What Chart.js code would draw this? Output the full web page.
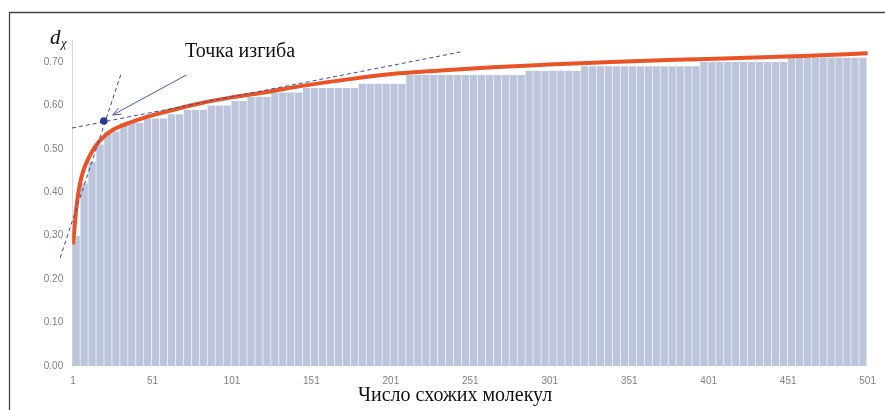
<!DOCTYPE html>
<html>
<head>
<meta charset="utf-8">
<script src="https://cdn.jsdelivr.net/npm/chart.js@4.4.0/dist/chart.umd.min.js"></script>
<style>
  body { margin: 0; background: #fff; }
  #wrap { position: relative; width: 885px; height: 410px; }
</style>
</head>
<body>
<div id="wrap"><canvas id="chart" width="885" height="410"></canvas></div>
<script>
// bar centres (number of similar molecules), each bar covers 5 molecules
var barX = [3, 8, 13, 18, 23, 28, 33, 38, 43, 48,
  53, 58, 63, 68, 73, 78, 83, 88, 93, 98,
  103, 108, 113, 118, 123, 128, 133, 138, 143, 148,
  153, 158, 163, 168, 173, 178, 183, 188, 193, 198,
  203, 208, 213, 218, 223, 228, 233, 238, 243, 248,
  253, 258, 263, 268, 273, 278, 283, 288, 293, 298,
  303, 308, 313, 318, 323, 328, 333, 338, 343, 348,
  353, 358, 363, 368, 373, 378, 383, 388, 393, 398,
  403, 408, 413, 418, 423, 428, 433, 438, 443, 448,
  453, 458, 463, 468, 473, 478, 483, 488, 493, 498];

// d_x
var barValues = [0.30, 0.42, 0.47, 0.51, 0.54, 0.54, 0.56, 0.56, 0.56, 0.57,
  0.57, 0.57, 0.58, 0.58, 0.59, 0.59, 0.59, 0.60, 0.60, 0.60,
  0.61, 0.61, 0.62, 0.62, 0.62, 0.63, 0.63, 0.63, 0.63, 0.64,
  0.64, 0.64, 0.64, 0.64, 0.64, 0.64, 0.65, 0.65, 0.65, 0.65,
  0.65, 0.65, 0.67, 0.67, 0.67, 0.67, 0.67, 0.67, 0.67, 0.67,
  0.67, 0.67, 0.67, 0.67, 0.67, 0.67, 0.67, 0.68, 0.68, 0.68,
  0.68, 0.68, 0.68, 0.68, 0.69, 0.69, 0.69, 0.69, 0.69, 0.69,
  0.69, 0.69, 0.69, 0.69, 0.69, 0.69, 0.69, 0.69, 0.69, 0.70,
  0.70, 0.70, 0.70, 0.70, 0.70, 0.70, 0.70, 0.70, 0.70, 0.70,
  0.71, 0.71, 0.71, 0.71, 0.71, 0.71, 0.71, 0.71, 0.71, 0.71];

// smooth trend curve (red)
var curveX = [1, 2, 3, 4, 6, 8, 11, 14, 17, 22, 27, 35, 47, 60, 80, 100, 120, 145, 170, 200, 230, 265, 300, 340, 380, 420, 460, 501];
var curveValues = [0.28, 0.32, 0.36, 0.39, 0.43, 0.455, 0.48, 0.50, 0.515, 0.533, 0.546, 0.558, 0.573, 0.586, 0.604, 0.618, 0.629, 0.645, 0.658, 0.672, 0.680, 0.688, 0.694, 0.700, 0.705, 0.709, 0.714, 0.72];

var xTicks = [1, 51, 101, 151, 201, 251, 301, 351, 401, 451, 501];
var yTicks = [0, 0.1, 0.2, 0.3, 0.4, 0.5, 0.6, 0.7];

// annotation geometry in data units
var marks = {
  dot: {x: 20.4, y: 0.564},
  steep: [{x: -7.1, y: 0.249}, {x: 31.6, y: 0.677}],
  flat: [{x: 0.4, y: 0.548}, {x: 244.7, y: 0.723}],
  arrow: [{x: 72.3, y: 0.670}, {x: 26, y: 0.578}]
};

var barData = [];
for (var i = 0; i < barX.length; i++) {
  barData.push({x: barX[i], y: barValues[i]});
}
var curveData = [];
for (var j = 0; j < curveX.length; j++) {
  curveData.push({x: curveX[j], y: curveValues[j]});
}

var extras = {
  id: 'extras',
  beforeDraw: function(chart) {
    var ctx = chart.ctx;
    ctx.save();
    ctx.strokeStyle = '#444';
    ctx.lineWidth = 1.3;
    ctx.beginPath();
    ctx.moveTo(9.5, 410);
    ctx.lineTo(9.5, 12.5);
    ctx.lineTo(885, 12.5);
    ctx.stroke();
    ctx.restore();
  },
  afterDatasetsDraw: function(chart) {
    var ctx = chart.ctx;
    var xs = chart.scales.x, ys = chart.scales.y;
    function px(p) { return [xs.getPixelForValue(p.x), ys.getPixelForValue(p.y)]; }
    ctx.save();
    // dashed tangents
    ctx.strokeStyle = '#3d4b9c';
    ctx.lineWidth = 1;
    ctx.setLineDash([4, 3]);
    [marks.steep, marks.flat].forEach(function(seg) {
      var a = px(seg[0]), b = px(seg[1]);
      ctx.beginPath();
      ctx.moveTo(a[0], a[1]);
      ctx.lineTo(b[0], b[1]);
      ctx.stroke();
    });
    ctx.setLineDash([]);
    // arrow
    var s = px(marks.arrow[0]), e = px(marks.arrow[1]);
    ctx.strokeStyle = '#4a58a8';
    ctx.beginPath();
    ctx.moveTo(s[0], s[1]);
    ctx.lineTo(e[0], e[1]);
    ctx.stroke();
    var ang = Math.atan2(e[1] - s[1], e[0] - s[0]);
    ctx.beginPath();
    ctx.moveTo(e[0] - 9 * Math.cos(ang - 0.4), e[1] - 9 * Math.sin(ang - 0.4));
    ctx.lineTo(e[0], e[1]);
    ctx.lineTo(e[0] - 9 * Math.cos(ang + 0.4), e[1] - 9 * Math.sin(ang + 0.4));
    ctx.stroke();
    // inflection point
    var d = px(marks.dot);
    ctx.fillStyle = '#2b3a8c';
    ctx.beginPath();
    ctx.arc(d[0], d[1], 3.8, 0, Math.PI * 2);
    ctx.fill();
    // texts
    ctx.fillStyle = '#111';
    ctx.textBaseline = 'alphabetic';
    ctx.font = '20px "Liberation Serif"';
    ctx.fillText('Точка изгиба', 185, 57);
    ctx.fillText('Число схожих молекул', 358, 401);
    ctx.font = 'italic 21px "Liberation Serif"';
    ctx.fillText('d', 50, 44);
    ctx.font = 'italic 13px "Liberation Serif"';
    ctx.fillText('χ', 61, 47);
    ctx.restore();
  }
};

var ctx = document.getElementById('chart').getContext('2d');
window.myChart = new Chart(ctx, {
  type: 'bar',
  data: {
    datasets: [{
      type: 'line',
      data: curveData,
      borderColor: 'rgb(232, 84, 40)',
      borderWidth: 4,
      pointRadius: 0,
      cubicInterpolationMode: 'monotone',
      fill: false,
      order: 0
    }, {
      type: 'bar',
      data: barData,
      backgroundColor: 'rgb(189, 197, 219)',
      categoryPercentage: 1,
      barPercentage: 0.92,
      order: 1
    }]
  },
  options: {
    responsive: false,
    animation: false,
    layout: { padding: { left: 0, right: 11.2, top: 40.3, bottom: 0 } },
    plugins: { legend: { display: false }, tooltip: { enabled: false } },
    scales: {
      x: {
        type: 'linear',
        min: 0.5,
        max: 501.5,
        offset: false,
        grid: { display: false, drawTicks: false },
        border: { display: false },
        afterBuildTicks: function(scale) {
          scale.ticks = xTicks.map(function(v) { return {value: v}; });
        },
        afterFit: function(scale) { scale.height = 44; },
        ticks: {
          padding: 9,
          color: '#808080',
          font: { family: 'Liberation Sans', size: 10 },
          maxRotation: 0,
          callback: function(v) { return String(v); }
        }
      },
      y: {
        min: 0,
        max: 0.75,
        grid: { display: false, drawTicks: false },
        border: { display: true, color: '#d9d9d9', width: 1 },
        afterBuildTicks: function(scale) {
          scale.ticks = yTicks.map(function(v) { return {value: v}; });
        },
        afterFit: function(scale) { scale.width = 72.2; },
        ticks: {
          padding: 9,
          color: '#808080',
          font: { family: 'Liberation Sans', size: 10 },
          callback: function(v) { return v.toFixed(2); }
        }
      }
    }
  },
  plugins: [extras]
});
</script>
</body>
</html>
